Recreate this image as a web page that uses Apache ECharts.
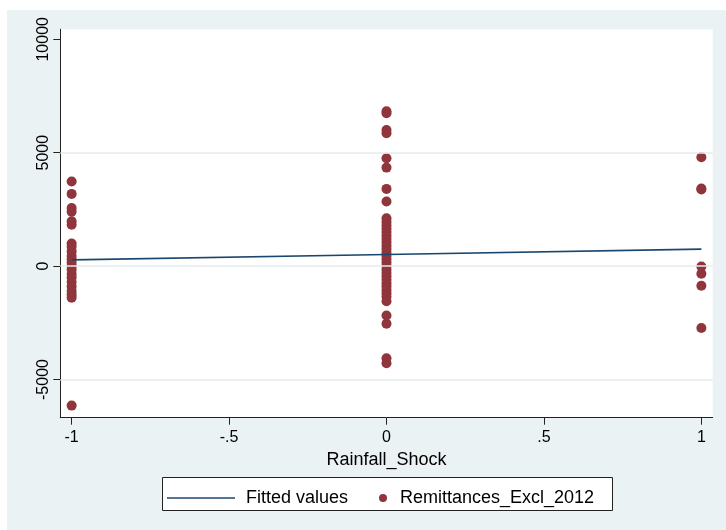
<!DOCTYPE html>
<html><head><meta charset="utf-8">
<script src="https://cdn.jsdelivr.net/npm/echarts@6/dist/echarts.min.js"></script>
<style>
html,body{margin:0;padding:0;background:#ffffff;}
#wrap{position:relative;width:726px;height:530px;overflow:hidden;}
#c{position:absolute;left:7px;top:10px;width:719px;height:520px;}
</style>
</head><body><div id="wrap"><div id="c"></div></div>
<script>
// ---- data ----
const xTickValues = [-1, -0.5, 0, 0.5, 1];
const xTickLabels = ['-1', '-.5', '0', '.5', '1'];
const yTickValues = [-5000, 0, 5000, 10000];
const yTickLabels = ['-5000', '0', '5000', '10000'];
const yGridValues = [-5000, 0, 5000];

const shockLevels = [-1, 0, 1];
const remitShockMinus1 = [3727, 3185, 2560, 2400, 1980, 1820, 1000, 850, 650, 450, 300, 150, 0, -150, -350, -500, -700, -900, -1100, -1250, -1390, -6150];
const remitShock0 = [6830, 6740, 6000, 5855, 4757, 4343, 3405, 2846, 2114, 1950, 1800, 1650, 1500, 1350, 1200, 1050, 900, 750, 600, 450, 300, 150, 0, -150, -300, -450, -600, -750, -900, -1050, -1200, -1350, -1550, -2175, -2541, -4060, -4280];
const remitShockPlus1 = [4800, 3420, 3380, -20, -340, -868, -2730];

const fittedX = [-1, 0, 1];
const fittedY = [277, 513, 749];

const seriesNames = ['Fitted values', 'Remittances_Excl_2012'];
const xAxisTitle = 'Rainfall_Shock';

// ---- build ----
const groups = [remitShockMinus1, remitShock0, remitShockPlus1];
const scatterData = [];
groups.forEach((vals, i) => vals.forEach(v => scatterData.push([shockLevels[i], v])));
const fitData = fittedX.map((x, i) => [x, fittedY[i]]);

const FONT = "'Liberation Sans', Arial, sans-serif";
const chart = echarts.init(document.getElementById('c'), null, {renderer: 'canvas'});
chart.setOption({
  backgroundColor: '#eaf2f3',
  animation: false,
  textStyle: {fontFamily: FONT, color: '#000'},
  grid: {left: 53.3, right: 13.3, top: 19.3, bottom: 112.3, show: true, backgroundColor: '#ffffff', borderWidth: 0},
  graphic: [{
    type: 'rect', left: 155, top: 467, z: 0,
    shape: {width: 450, height: 33},
    style: {fill: '#ffffff', stroke: '#222', lineWidth: 1}
  }],
  legend: [{
    data: [{name: seriesNames[0], icon: 'rect'}], left: 155, top: 474, itemWidth: 68, itemHeight: 1.6, z: 5,
    itemStyle: {color: '#1a476f'},
    textStyle: {fontFamily: FONT, fontSize: 18, color: '#000', padding: [0, 0, 0, 6]}
  }, {
    data: [seriesNames[1]], left: 367, top: 474, itemWidth: 8, itemHeight: 8, z: 5,
    textStyle: {fontFamily: FONT, fontSize: 18, color: '#000', padding: [0, 0, 0, 8]}
  }],
  xAxis: {
    type: 'value', min: -1.036, max: 1.036,
    name: xAxisTitle, nameLocation: 'middle', nameGap: 29,
    nameTextStyle: {fontFamily: FONT, fontSize: 18, color: '#000'},
    axisLine: {onZero: false, lineStyle: {color: '#222', width: 1}},
    axisTick: {show: true, length: 7, customValues: xTickValues, lineStyle: {color: '#222'}},
    axisLabel: {customValues: xTickValues, margin: 12, fontFamily: FONT, fontSize: 16, color: '#000',
      formatter: v => xTickLabels[xTickValues.indexOf(v)] ?? String(v)},
    splitLine: {show: false}
  },
  yAxis: {
    type: 'value', min: -6683, max: 10441,
    axisLine: {show: true, onZero: false, lineStyle: {color: '#222', width: 1}},
    axisTick: {show: true, length: 7, customValues: yTickValues, lineStyle: {color: '#222'}},
    axisLabel: {customValues: yTickValues, rotate: 90, margin: 9, fontFamily: FONT, fontSize: 16, color: '#000',
      formatter: v => yTickLabels[yTickValues.indexOf(v)] ?? String(v)},
    splitLine: {show: false}
  },
  series: [{
    name: 'grid', type: 'scatter', data: [], z: 1, silent: true,
    markLine: {
      silent: true, symbol: 'none', label: {show: false},
      lineStyle: {color: '#e4edef', type: 'solid', width: 1.5},
      data: yGridValues.map(v => ({yAxis: v}))
    }
  }, {
    name: seriesNames[0], type: 'line', data: fitData, z: 4,
    showSymbol: false, symbol: 'none',
    lineStyle: {color: '#1a476f', width: 1.6}, itemStyle: {color: '#1a476f'}
  }, {
    name: seriesNames[1], type: 'scatter', data: scatterData, z: 3,
    symbol: 'circle', symbolSize: 10,
    itemStyle: {color: '#90353b', opacity: 1}
  }]
});
</script>
</body></html>
